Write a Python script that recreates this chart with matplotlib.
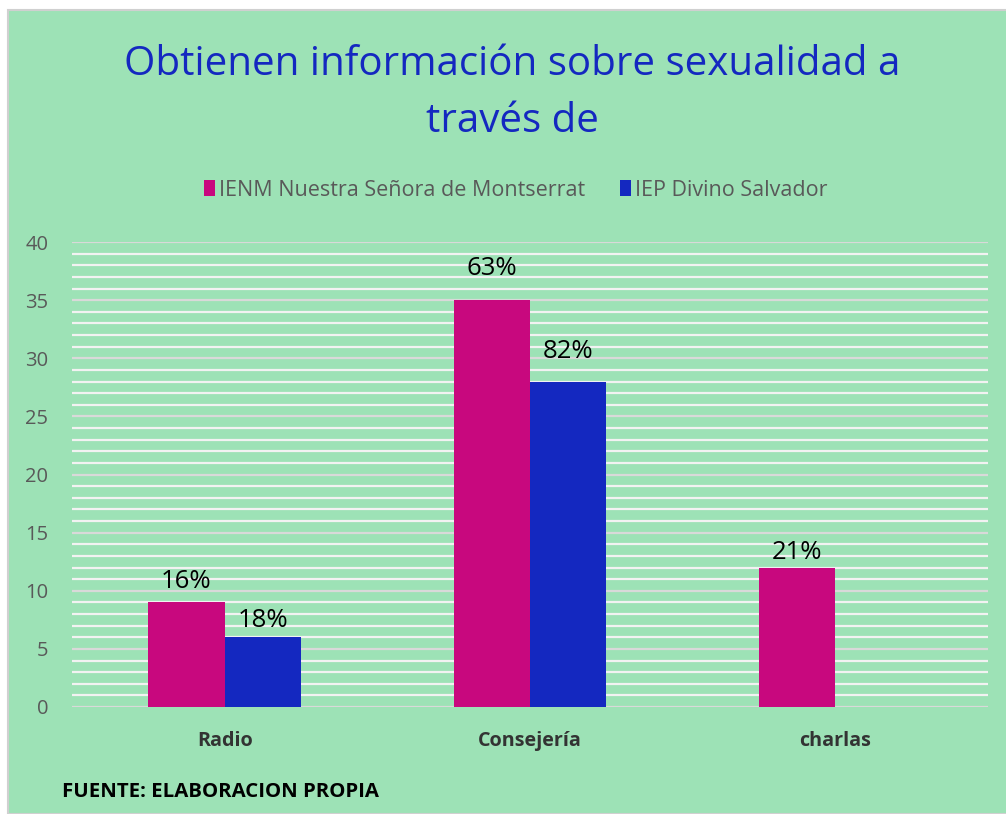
import numpy as np
import matplotlib.pyplot as plt
from matplotlib.patches import Rectangle

categories = ['Radio', 'Consejería', 'charlas']
series_names = ['IENM Nuestra Señora de Montserrat', 'IEP Divino Salvador']
montserrat = [9, 35, 12]
salvador = [6, 28, 0]
montserrat_labels = ['16%', '63%', '21%']
salvador_labels = ['18%', '82%', '']

# the labels in the original sit at uneven heights above the bars (points)
montserrat_lift = [15, 23, 11]
salvador_lift = [12, 21.5, 0]

bg = '#9DE2B6'
pink = '#C8087E'
blue = '#1428C0'

plt.rcParams['font.family'] = ['Open Sans', 'DejaVu Sans']

fig = plt.figure(figsize=(10.06, 8.14), dpi=100, facecolor='white')
# green chart area with thin gray border, like the pasted office chart
fig.patches.append(Rectangle((8 / 1006, 0), 1, 1 - 10 / 814, transform=fig.transFigure,
                             facecolor=bg, edgecolor='#D0D0D0', linewidth=1.5, zorder=-10))

ax = fig.add_axes([72 / 1006, 1 - 707 / 814, (988 - 72) / 1006, (707 - 242) / 814])
ax.set_facecolor(bg)

x = np.arange(len(categories))
w = 0.25
b1 = ax.bar(x - w / 2, montserrat, w, color=pink, label=series_names[0], zorder=3)
b2 = ax.bar(x + w / 2, salvador, w, color=blue, label=series_names[1], zorder=3)

for bars, labels, lifts in [(b1, montserrat_labels, montserrat_lift),
                            (b2, salvador_labels, salvador_lift)]:
    for rect, lab, dy in zip(bars, labels, lifts):
        if not lab:
            continue
        ax.annotate(lab, (rect.get_x() + rect.get_width() / 2, rect.get_height()),
                    xytext=(0, dy), textcoords='offset points',
                    ha='center', va='center', fontsize=18.5, color='black', zorder=4)

ax.set_xlim(-0.5, 2.5)
ax.set_ylim(0, 40)
ax.set_yticks(np.arange(0, 41, 5))
ax.set_yticks(np.arange(0, 41, 1), minor=True)
ax.grid(axis='y', which='minor', color='#F2F2F2', linewidth=1.6, zorder=1)
ax.grid(axis='y', which='major', color='#D9D9D9', linewidth=1.6, zorder=2)
ax.set_axisbelow(True)
ax.tick_params(axis='y', which='both', length=0, labelsize=14.5, labelcolor='#595959', pad=17)
ax.set_xticks(x)
ax.set_xticklabels(categories, fontsize=14.2, fontweight='bold', color='#333333')
ax.tick_params(axis='x', length=0, pad=17)
for s in ax.spines.values():
    s.set_visible(False)

fig.text(512 / 1006, 1 - 65 / 814, 'Obtienen información sobre sexualidad a',
         ha='center', va='center', fontsize=29, color=blue)
fig.text(512 / 1006, 1 - 122 / 814, 'través de',
         ha='center', va='center', fontsize=29, color=blue)

ax.legend(loc='center', bbox_to_anchor=((516 - 72) / 916, 1 + (242 - 190) / 465), ncol=2,
          frameon=False, fontsize=15.5, labelcolor='#595959', handlelength=0.5,
          handleheight=0.7, handletextpad=0.2, columnspacing=1.6)

fig.text(62 / 1006, 1 - 792 / 814, 'FUENTE: ELABORACION PROPIA', ha='left', va='center',
         fontsize=14.7, fontweight='bold', color='black')

fig.savefig('out.png', dpi=100, facecolor='white')
